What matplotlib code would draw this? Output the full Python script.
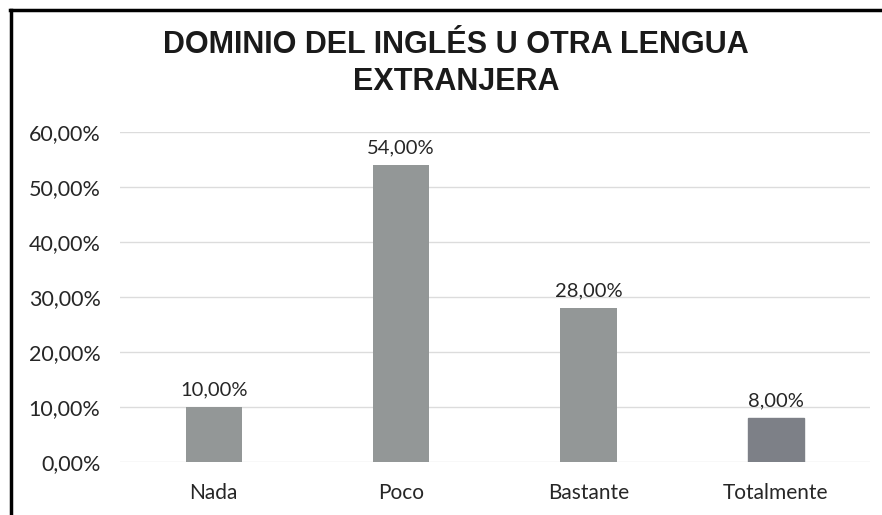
import numpy as np
import matplotlib
matplotlib.use("Agg")
import matplotlib.pyplot as plt
from matplotlib.lines import Line2D

categories=["Nada","Poco","Bastante","Totalmente"]
values=[10.0,54.0,28.0,8.0]
yticks=[0,10,20,30,40,50,60]
title="DOMINIO DEL INGLÉS U OTRA LENGUA\nEXTRANJERA"

def pct(v):
    return f"{v:.2f}".replace(".",",")+"%"

fig=plt.figure(figsize=(8.82,5.15),dpi=100)
ax=fig.add_axes([0.136,0.103,0.850,0.641])

x=np.arange(len(categories))
bars=ax.bar(x,values,width=0.3,color="#939797",zorder=3)
bars[-1].set_color("#7d8087")

for xi,v in zip(x,values):
    ax.annotate(pct(v),(xi,v),xytext=(0,6),textcoords="offset points",
                ha="center",va="bottom",fontsize=14.5,family="Lato",color="#262626")

ax.set_xlim(-0.5,3.5)
ax.set_ylim(0,60)
ax.set_yticks(yticks)
ax.set_yticklabels([pct(t) for t in yticks],fontsize=15.5,family="Lato",color="#262626")
ax.set_xticks(x)
ax.set_xticklabels(categories,fontsize=15,family="Lato",color="#262626")
ax.tick_params(axis="y",length=0,pad=14)
ax.tick_params(axis="x",length=0,pad=15)
ax.grid(axis="y",color="#dcdcdc",linewidth=1,zorder=0)
for s in ax.spines.values():
    s.set_visible(False)

fig.text(0.517,0.876,title,ha="center",va="center",fontsize=22,fontweight="bold",
         family="Liberation Sans",color="#1a1a1a",linespacing=1.3)

# border of the scanned chart box
fig.add_artist(Line2D([0.011,1.0],[0.981,0.981],transform=fig.transFigure,color="black",linewidth=2.5))
fig.add_artist(Line2D([0.012,0.012],[0.0,0.981],transform=fig.transFigure,color="black",linewidth=2.5))

fig.savefig("out.png",dpi=100)
